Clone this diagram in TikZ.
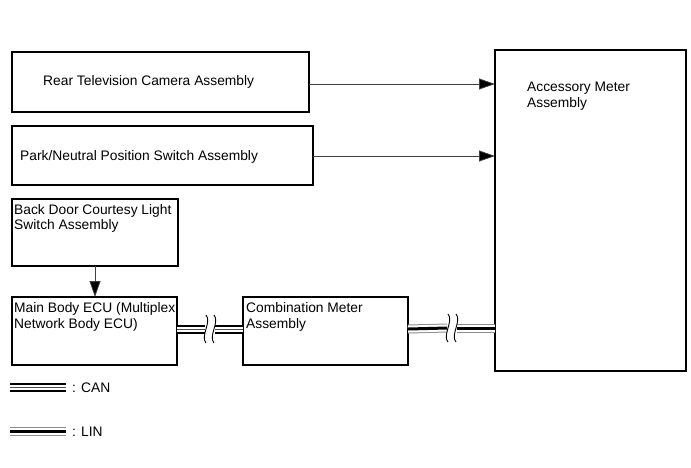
\documentclass[tikz,border=0pt]{standalone}
\usepackage{fontspec}
\setmainfont{Liberation Sans}
\usetikzlibrary{arrows.meta,calc}
\begin{document}
\begin{tikzpicture}[x=1pt,y=-1pt,
  box/.style={draw=black,line width=1.3pt,inner sep=0pt},
  lbl/.style={font=\fontsize{13.8}{16}\selectfont,anchor=base west,inner sep=0pt},
  arr/.style={draw=black!75,line width=0.8pt,-{Triangle[length=16pt,width=11pt,fill=black]}},
  canouter/.style={line width=9pt,draw=black},
  canmid/.style={line width=5pt,draw=white},
  caninner/.style={line width=1pt,draw=black!70},
  linouter/.style={line width=9pt,draw=black!45},
  linmid/.style={line width=7pt,draw=white},
  lininner/.style={line width=3pt,draw=black},
  brk/.style={draw=black,line width=0.9pt}
]
\useasboundingbox (0,0) rectangle (691,467);
% boxes
\draw[box] (12,52) rectangle (309,112);
\node[lbl] (t1) at (43,85) {Rear Television Camera Assembly};
\coordinate (rtv) at (309,84);
\draw[box] (12,126) rectangle (313,185);
\node[lbl] (t2) at (20,160) {Park/Neutral Position Switch Assembly};
\coordinate (pn) at (313,156);
\draw[box] (12,199) rectangle (178,266);
\node[lbl] (t3a) at (14,214) {Back Door Courtesy Light};
\node[lbl] (t3b) at (14,229.5) {Switch Assembly};
\coordinate (bd) at (95,266);
\draw[box] (12,297) rectangle (177,365);
\node[lbl] (t4a) at (14,312) {Main Body ECU (Multiplex};
\node[lbl] (t4b) at (14,328) {Network Body ECU)};
\coordinate (mbtop) at (95,297);
\coordinate (mbr) at (177,329);
\draw[box] (243,297) rectangle (408,365);
\node[lbl] (t5a) at (246,312) {Combination Meter};
\node[lbl] (t5b) at (246,328) {Assembly};
\coordinate (cml) at (243,329);
\coordinate (cmr) at (408,329);
\draw[box] (495,50) rectangle (686,371);
\node[lbl] (t6a) at (527,91) {Accessory Meter};
\node[lbl] (t6b) at (527,107) {Assembly};
\coordinate (am1) at (495,84);
\coordinate (am2) at (495,156);
\coordinate (aml) at (495,328);
% arrows
\draw[arr] (rtv) -- (am1);
\draw[arr] (pn) -- (am2);
\draw[arr] (bd) -- (mbtop);
% CAN link
\coordinate (cb) at ($(mbr)!0.5!(cml)$);
\foreach \s in {canouter,canmid,caninner}{
  \draw[\s] (mbr) -- ($(cb)+(-5,0)$);
  \draw[\s] ($(cb)+(5,0)$) -- (cml);
}
\draw[brk] ($(cb)+(-4,-14)$) .. controls ($(cb)+(2,-7)$) and ($(cb)+(-10,7)$) .. ($(cb)+(-4,14)$);
\draw[brk] ($(cb)+(4,-14)$) .. controls ($(cb)+(10,-7)$) and ($(cb)+(-2,7)$) .. ($(cb)+(4,14)$);
% LIN link
\coordinate (lb) at (452,328);
\foreach \s in {linouter,linmid,lininner}{
  \draw[\s] (cmr) -- ($(lb)+(-5,0)$);
  \draw[\s] ($(lb)+(5,0)$) -- (aml);
}
\draw[brk] ($(lb)+(-4,-14)$) .. controls ($(lb)+(2,-7)$) and ($(lb)+(-10,7)$) .. ($(lb)+(-4,14)$);
\draw[brk] ($(lb)+(4,-14)$) .. controls ($(lb)+(10,-7)$) and ($(lb)+(-2,7)$) .. ($(lb)+(4,14)$);
% legend
\coordinate (lc1) at (10,387);
\coordinate (lc2) at (66,387);
\foreach \s in {canouter,canmid,caninner}{\draw[\s] (lc1) -- (lc2);}
\node[lbl] (lcan) at (72,392) {: CAN};
\coordinate (ll1) at (10,431);
\coordinate (ll2) at (66,431);
\foreach \s in {linouter,linmid,lininner}{\draw[\s] (ll1) -- (ll2);}
\node[lbl] (llin) at (72,436) {: LIN};
\end{tikzpicture}
\end{document}
